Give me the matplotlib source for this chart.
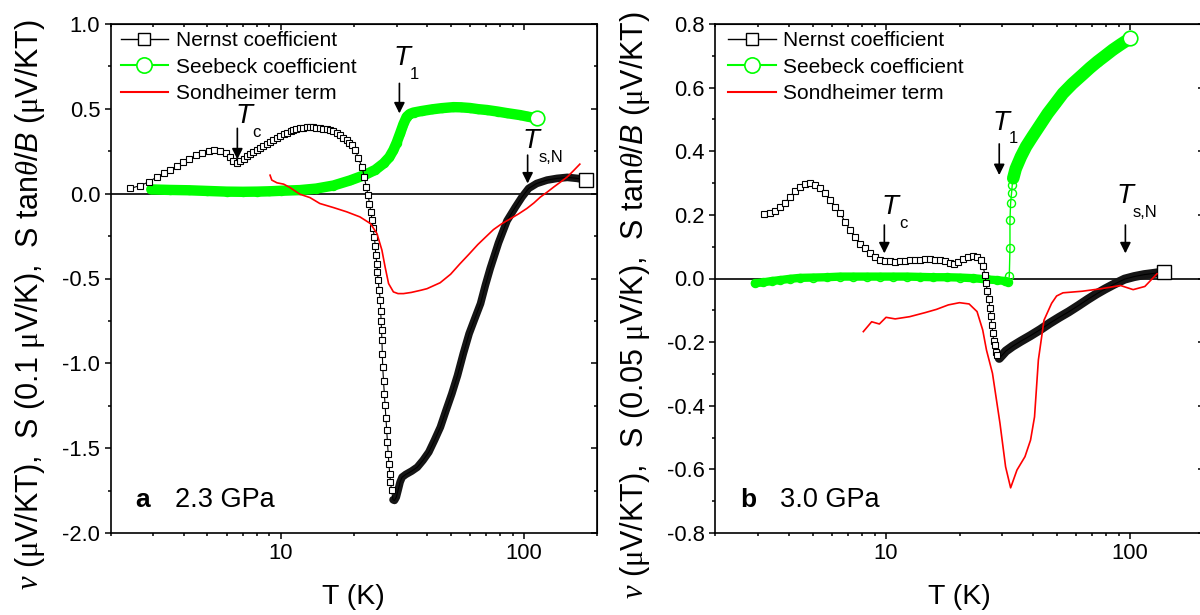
import numpy as np
import matplotlib
matplotlib.use('Agg')
import matplotlib.pyplot as plt
from matplotlib.lines import Line2D
from matplotlib.ticker import MultipleLocator, FuncFormatter, NullFormatter

plt.rcParams['font.family'] = ['Liberation Sans', 'DejaVu Sans']
plt.rcParams['axes.unicode_minus'] = False
plt.rcParams['mathtext.fontset'] = 'custom'
plt.rcParams['mathtext.rm'] = 'Liberation Serif'
plt.rcParams['mathtext.it'] = 'Liberation Serif:italic'
plt.rcParams['mathtext.sf'] = 'Liberation Sans:italic'

GREEN = '#00ff00'

# ---------------- panel a: 2.3 GPa ----------------
nernst_T_a = [2.40, 2.63, 2.88, 3.10, 3.31, 3.52, 3.74, 3.96, 4.22, 4.49, 4.75, 5.06, 5.34,
              5.64, 5.96, 6.17, 6.40, 6.60, 6.81, 7.05, 7.26, 7.50, 7.73, 8.0, 8.24, 8.5, 8.77,
              9.05, 9.34, 9.65, 9.95, 10.3, 10.6, 11.0, 11.3, 11.6, 12.0, 12.4, 12.8, 13.2, 13.6,
              14.0, 14.5, 15.0, 15.5, 16.0, 16.5, 17.0, 17.6, 18.1, 18.7, 19.2, 19.6, 20.3, 20.9,
              21.6, 22.1, 22.5, 22.9, 23.2, 23.5, 23.8, 24.0, 24.3, 24.5, 24.6, 24.9, 25.0, 25.2,
              25.4, 25.7, 25.8, 25.9, 26.0, 26.1, 26.2, 26.3, 26.5, 26.7, 26.9, 27.1, 27.3, 27.5,
              27.7, 27.9, 28.1, 28.3, 28.6, 29.0, 29.4, 29.9, 30.4, 31.0, 31.6, 32.7, 34.6, 36.5,
              38.5, 40.7, 42.9, 45.4, 47.9, 50.6, 53.4, 56.4, 59.6, 62.9, 66.4, 69.5, 72.8, 78.7,
              85.3, 92.3, 98.3, 104.7, 113, 124.6, 137, 151, 166, 181]
nernst_V_a = [0.031, 0.046, 0.070, 0.099, 0.119, 0.139, 0.164, 0.184, 0.204, 0.227, 0.241, 0.253, 0.257,
              0.253, 0.237, 0.217, 0.190, 0.178, 0.190, 0.205, 0.222, 0.236, 0.247, 0.257, 0.267, 0.279, 0.290,
              0.303, 0.316, 0.328, 0.339, 0.350, 0.359, 0.368, 0.375, 0.380, 0.385, 0.388, 0.390, 0.391, 0.390,
              0.389, 0.388, 0.384, 0.380, 0.375, 0.369, 0.358, 0.345, 0.331, 0.316, 0.300, 0.286, 0.257, 0.208,
              0.158, 0.099, 0.040, -0.009, -0.058, -0.107, -0.156, -0.205, -0.255, -0.308, -0.359, -0.412, -0.461, -0.510,
              -0.569, -0.624, -0.690, -0.750, -0.801, -0.864, -0.943, -1.022, -1.104, -1.179, -1.248, -1.320, -1.391, -1.464,
              -1.533, -1.596, -1.651, -1.700, -1.749, -1.804, -1.808, -1.789, -1.749, -1.700, -1.671, -1.655, -1.635, -1.612,
              -1.572, -1.523, -1.454, -1.376, -1.277, -1.179, -1.071, -0.943, -0.825, -0.736, -0.648, -0.540, -0.440, -0.290,
              -0.160, -0.080, -0.020, 0.031, 0.060, 0.080, 0.090, 0.096, 0.090, 0.080]

seebeck_T_a = [2.94, 3.5, 4.2, 5.0, 6.0, 7.0, 8.0, 9.0, 10.0, 12.0, 14.0, 16.5, 19.3, 22.0, 24.5,
               26.5, 28.0, 29.1, 30.0, 31.0, 32.0, 33.0, 34.0, 35.2, 38.0, 42.0, 46.0, 51.4, 55.0,
               60.0, 65.0, 70.6, 78.0, 85.0, 96.7, 103, 113]
seebeck_V_a = [0.025, 0.022, 0.020, 0.016, 0.012, 0.011, 0.012, 0.014, 0.017, 0.021, 0.030, 0.048, 0.078, 0.108, 0.140,
               0.178, 0.215, 0.257, 0.300, 0.355, 0.410, 0.453, 0.470, 0.478, 0.487, 0.497, 0.504, 0.510, 0.509,
               0.505, 0.498, 0.493, 0.484, 0.475, 0.463, 0.455, 0.444]

sond_T_a = [9.05, 9.2, 9.66, 10.3, 10.9, 12.0, 13.2, 14.5, 16.5, 18.7, 21.2, 23.4, 24.9, 26.1, 26.9,
            27.8, 29.1, 30.4, 32.0, 34.5, 37.8, 40.0, 45.3, 50.0, 54.5, 59.5, 64.7, 70.0, 75.0, 81.0,
            88.0, 95.0, 103, 110, 117, 125, 133, 142, 151, 160, 170]
sond_V_a = [0.109, 0.080, 0.064, 0.056, 0.037, -0.003, -0.023, -0.058, -0.082, -0.107, -0.137, -0.176, -0.235, -0.333, -0.432,
            -0.530, -0.579, -0.589, -0.589, -0.582, -0.569, -0.560, -0.525, -0.475, -0.415, -0.357, -0.300, -0.253, -0.212, -0.178,
            -0.148, -0.120, -0.087, -0.055, -0.020, 0.010, 0.040, 0.070, 0.099, 0.135, 0.174]

# ---------------- panel b: 3.0 GPa ----------------
nernst_T_b = [3.16, 3.35, 3.51, 3.68, 3.85, 4.04, 4.24, 4.44, 4.66, 4.88, 5.12, 5.36, 5.62, 5.90,
              6.18, 6.48, 6.79, 7.12, 7.46, 7.82, 8.20, 8.60, 9.01, 9.44, 9.90, 10.4, 10.9, 11.4,
              12.0, 12.5, 13.1, 13.8, 14.5, 15.1, 15.9, 16.6, 17.4, 18.3, 18.9, 19.8, 20.7, 21.7,
              22.8, 23.7, 24.4, 25.0, 25.4, 25.7, 26.0, 26.4, 26.6, 26.9, 27.1, 27.4, 27.6, 28.0,
              28.3, 28.6, 29.1, 30.0, 31.0, 33.0, 35.7, 39.0, 42.8, 47.0, 51.3, 56.0, 61.5, 67.0,
              73.0, 79.0, 86.0, 95.0, 104, 114, 125, 138]
nernst_V_b = [0.203, 0.207, 0.212, 0.224, 0.238, 0.257, 0.276, 0.289, 0.297, 0.299, 0.294, 0.284, 0.268, 0.247,
              0.226, 0.205, 0.179, 0.152, 0.130, 0.108, 0.095, 0.081, 0.069, 0.058, 0.055, 0.054, 0.053, 0.054,
              0.055, 0.057, 0.058, 0.059, 0.060, 0.060, 0.059, 0.057, 0.054, 0.048, 0.046, 0.053, 0.061, 0.067,
              0.071, 0.069, 0.057, 0.038, 0.012, -0.014, -0.040, -0.066, -0.093, -0.119, -0.145, -0.171, -0.197, -0.210,
              -0.230, -0.242, -0.251, -0.240, -0.228, -0.213, -0.197, -0.180, -0.161, -0.140, -0.122, -0.105, -0.085, -0.066,
              -0.048, -0.033, -0.018, -0.002, 0.006, 0.012, 0.016, 0.021]

seebeck_T_b = [2.90, 3.14, 3.40, 3.68, 4.04, 4.44, 5.04, 5.71, 6.48, 7.35, 8.33, 9.44, 10.7, 12.2,
               13.8, 15.6, 17.7, 20.1, 22.8, 25.9, 28.4, 30.8, 31.7, 32.0, 32.2, 32.2, 32.4, 32.7,
               32.9, 33.2, 34.0, 35.7, 37.5, 39.8, 43.0, 46.0, 49.5, 53.1, 58.0, 63.7, 68.5, 73.6,
               79.0, 85.0, 92.0, 100]
seebeck_V_b = [-0.015, -0.012, -0.008, -0.005, -0.001, 0.002, 0.003, 0.004, 0.006, 0.006, 0.006, 0.006, 0.006, 0.006,
               0.005, 0.004, 0.004, 0.003, 0.001, -0.003, -0.005, -0.008, -0.012, 0.008, 0.095, 0.184, 0.238, 0.270,
               0.294, 0.315, 0.345, 0.383, 0.415, 0.446, 0.485, 0.519, 0.551, 0.582, 0.612, 0.640, 0.662, 0.682,
               0.700, 0.719, 0.737, 0.755]

sond_T_b = [8.07, 8.73, 9.39, 10.0, 10.9, 12.5, 14.5, 16.1, 18.0, 20.0, 21.9, 23.6, 24.9, 25.8, 27.3,
            29.3, 30.9, 32.4, 34.4, 37.1, 39.1, 40.6, 42.1, 44.4, 47.7, 50.0, 53.1, 63.7, 76.3, 91.4,
            103, 115, 129]
sond_V_b = [-0.167, -0.136, -0.143, -0.122, -0.127, -0.120, -0.107, -0.097, -0.083, -0.076, -0.080, -0.104, -0.162, -0.225, -0.298,
            -0.455, -0.592, -0.658, -0.602, -0.560, -0.508, -0.435, -0.256, -0.131, -0.078, -0.055, -0.045, -0.040, -0.032, -0.022,
            -0.035, -0.025, 0.015]

# arrow marks: (subscript, T of arrow, tail, head, T-letter x, y, subscript x, y)
marks_a = [('c', 6.64, 0.385, 0.202, 7.08, 0.457, 7.95, 0.360),
           ('1', 30.8, 0.650, 0.473, 31.6, 0.800, 35.6, 0.705),
           ('s,N', 103.7, 0.227, 0.060, 107, 0.310, 129, 0.212)]
marks_b = [('1', 29.1, 0.423, 0.325, 29.6, 0.489, 33.4, 0.440),
           ('c', 9.84, 0.168, 0.079, 10.4, 0.226, 11.8, 0.172),
           ('s,N', 95.7, 0.168, 0.079, 95.4, 0.259, 115, 0.208)]

legend_labels = ['Nernst coefficient', 'Seebeck coefficient', 'Sondheimer term']


def draw_panel(ax, nT, nV, sT, sV, rT, rV, n_band_from, n_band_w, s_bands, marks, ylim, ymaj, ymin,
               ylabel, tag, pressure, leg_x):
    nT, nV, sT, sV = map(np.asarray, (nT, nV, sT, sV))
    ax.set_xscale('log')
    ax.set_xlim(2, 200)
    ax.set_ylim(*ylim)
    ax.axhline(0, color='k', lw=1.2, zorder=1)

    # Seebeck: dense open circles, drawn as a solid band where they overlap
    for lo, hi, w in s_bands:
        m = (sT >= lo) & (sT <= hi)
        ax.plot(sT[m], sV[m], color=GREEN, lw=w, solid_capstyle='round', zorder=2)
    ax.plot(sT[:-1], sV[:-1], '-o', color=GREEN, lw=1, ms=5.8, mfc='none', mec=GREEN, mew=1, zorder=2.2)
    ax.plot(sT[-1], sV[-1], 'o', ms=10.5, mfc='white', mec=GREEN, mew=1.2, zorder=2.3)

    # Nernst: open squares where sparse, dark band where they pile up
    band = nT >= n_band_from
    ax.plot(nT[band], nV[band], color='#151515', lw=n_band_w, solid_capstyle='round', zorder=3)
    ax.plot(nT, nV, color='k', lw=0.8, zorder=3.05)
    ax.plot(nT[~band], nV[~band], 's', ms=4.3, mfc='white', mec='k', mew=0.8, zorder=3.1)
    ax.plot(nT[-1], nV[-1], 's', ms=10, mfc='white', mec='k', mew=1, zorder=3.2)

    ax.plot(rT, rV, color='red', lw=1.2, zorder=4)

    for sub, Ta, tail, head, tx, ty, sx, sy in marks:
        ax.annotate('', xy=(Ta, head), xytext=(Ta, tail),
                    arrowprops=dict(arrowstyle='-|>', color='k', lw=1.2, mutation_scale=16,
                                    shrinkA=0, shrinkB=0), zorder=5)
        ax.text(tx, ty, 'T', fontsize=20, style='italic', ha='center', va='center')
        ax.text(sx, sy, sub, fontsize=12, ha='center', va='center')

    ax.xaxis.set_major_formatter(FuncFormatter(lambda v, p: f'{v:g}'))
    ax.xaxis.set_minor_formatter(NullFormatter())
    ax.yaxis.set_major_locator(MultipleLocator(ymaj))
    ax.yaxis.set_minor_locator(MultipleLocator(ymin))
    ax.tick_params(which='both', direction='out', top=False, right=False, width=1.1, labelsize=15.8)
    ax.tick_params(which='major', length=4)
    ax.tick_params(which='minor', length=2.5)
    for s in ax.spines.values():
        s.set_linewidth(1.2)

    top = ax.secondary_xaxis('top')
    top.tick_params(which='both', direction='in', labeltop=False, width=1.1)
    top.tick_params(which='major', length=4)
    top.tick_params(which='minor', length=2.5)
    top.xaxis.set_major_formatter(NullFormatter())
    top.xaxis.set_minor_formatter(NullFormatter())
    right = ax.secondary_yaxis('right')
    right.yaxis.set_major_locator(MultipleLocator(ymaj))
    right.yaxis.set_minor_locator(MultipleLocator(ymin))
    right.tick_params(which='both', direction='in', labelright=False, width=1.1)
    right.tick_params(which='major', length=4)
    right.tick_params(which='minor', length=2.5)

    ax.set_xlabel('T (K)', fontsize=20.5, labelpad=14)
    ax.set_ylabel(ylabel, fontsize=22)
    ax.yaxis.set_label_coords(-0.131, 0.448)

    handles = [Line2D([], [], color='k', lw=1, marker='s', ms=8, mfc='white', mec='k', mew=1),
               Line2D([], [], color=GREEN, lw=1.5, marker='o', ms=11, mfc='white', mec=GREEN, mew=1.2),
               Line2D([], [], color='red', lw=1.5)]
    ax.legend(handles, legend_labels, loc='upper left', bbox_to_anchor=(leg_x, 0.986),
              frameon=False, fontsize=15, handlelength=2.3, handletextpad=0.35,
              labelspacing=0.36, borderpad=0, borderaxespad=0)

    ax.text(0.05, 0.052, tag, transform=ax.transAxes, fontsize=19, fontweight='bold', va='baseline')
    ax.text(0.132, 0.052, pressure, transform=ax.transAxes, fontsize=19.5, va='baseline')


fig = plt.figure(figsize=(12, 6.15), dpi=100)
ax_a = fig.add_axes([110.6 / 1200, 82 / 615, 486.4 / 1200, 509 / 615])
ax_b = fig.add_axes([715.5 / 1200, 82 / 615, 488 / 1200, 509 / 615])

ylab_a = r'$\nu$ ($\mathrm{\mu}$V/KT),  S (0.1 $\mathrm{\mu}$V/K),  S tan$\theta$/$\mathsf{B}$ ($\mathrm{\mu}$V/KT)'
ylab_b = r'$\nu$ ($\mathrm{\mu}$V/KT),  S (0.05 $\mathrm{\mu}$V/K),  S tan$\theta$/$\mathsf{B}$ ($\mathrm{\mu}$V/KT)'

draw_panel(ax_a, nernst_T_a, nernst_V_a, seebeck_T_a, seebeck_V_a, sond_T_a, sond_V_a,
           29.0, 5.5, [(2.9, 120, 7.5)], marks_a, (-2.0, 1.0), 0.5, 0.25, ylab_a, 'a', '2.3 GPa', 0.0204)
draw_panel(ax_b, nernst_T_b, nernst_V_b, seebeck_T_b, seebeck_V_b, sond_T_b, sond_V_b,
           29.0, 6.5, [(2.8, 31.8, 6), (33.1, 101, 9)], marks_b, (-0.8, 0.8), 0.2, 0.1, ylab_b, 'b', '3.0 GPa', 0.0256)

fig.savefig('out.png', dpi=100)
